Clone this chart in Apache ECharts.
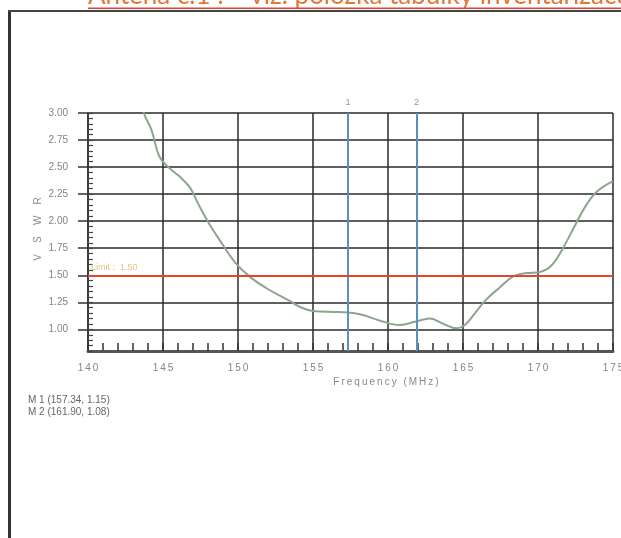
<!DOCTYPE html>
<html>
<head>
<meta charset="utf-8">
<style>
  html, body { margin: 0; padding: 0; background: #fff; }
  #chart { width: 621px; height: 538px; }
</style>
<script src="https://cdn.jsdelivr.net/npm/echarts@6/dist/echarts.min.js"></script>
</head>
<body>
<div id="chart"></div>
<script>
// VSWR sweep
const freqs = [143.5, 143.73, 144.24, 144.75, 145.36, 146.13, 146.8, 147.35, 148.02, 148.8, 149.8, 150.8, 151.9,
  153.47, 154.25, 155.0, 156.8, 158.13, 159.47, 160.8, 161.8, 162.8, 163.7, 164.58, 165.13, 165.8, 166.58,
  167.47, 168.35, 169.25, 170.13, 170.9, 171.58, 172.35, 173.13, 173.9, 175.0];
const vswr = [3.2, 3.0, 2.84, 2.6, 2.5, 2.41, 2.31, 2.16, 1.99, 1.82, 1.62, 1.485, 1.38,
  1.26, 1.2, 1.17, 1.16, 1.14, 1.08, 1.04, 1.07, 1.1, 1.05, 1.01, 1.04, 1.15, 1.28,
  1.39, 1.49, 1.52, 1.53, 1.59, 1.73, 1.93, 2.13, 2.27, 2.37];

const yTicks = [1.0, 1.25, 1.5, 1.75, 2.0, 2.25, 2.5, 2.75, 3.0];
const limitValue = 1.5;

const markerNames = ['M 1', 'M 2'];
const markerFreqs = [157.34, 161.90];
const markerVswr = [1.15, 1.08];

// spread letters a bit, the scan's plot font is wide-set
const spread = s => s.split('').join('\u2009');

const chart = echarts.init(document.getElementById('chart'));

const labelFont = { color: '#848484', fontSize: 10, fontFamily: 'Liberation Sans' };

chart.setOption({
  animation: false,
  backgroundColor: '#fff',
  grid: { left: 88, right: 8, top: 113, bottom: 187, outerBoundsMode: 'none' },
  xAxis: [{
    type: 'value', min: 140, max: 175, interval: 5,
    axisLine: { lineStyle: { color: '#555', width: 3 } },
    axisTick: { show: false },
    axisLabel: Object.assign({ margin: 12, formatter: v => spread(String(v)) }, labelFont),
    splitLine: { show: true, lineStyle: { color: '#2a2a2a', width: 1.5 } }
  }, {
    type: 'value', min: 140, max: 175, interval: 1, position: 'bottom',
    axisLine: { show: false },
    axisTick: { inside: true, length: 8, lineStyle: { color: '#333', width: 1.5 } },
    axisLabel: { show: false }, splitLine: { show: false }
  }],
  yAxis: [{
    type: 'value', min: 0.8, max: 3.0,
    axisLine: { show: true, lineStyle: { color: '#333', width: 1.5 } },
    axisTick: { show: true, customValues: yTicks, length: 10, lineStyle: { color: '#333', width: 1.5 } },
    axisLabel: Object.assign({ margin: 20, customValues: yTicks, formatter: v => v.toFixed(2) }, labelFont),
    splitLine: { show: true, lineStyle: { color: '#2a2a2a', width: 1.5 } }
  }, {
    type: 'value', min: 0.8, max: 3.0, interval: 0.05, position: 'left',
    axisLine: { show: false },
    axisTick: { inside: true, length: 5, lineStyle: { color: '#444', width: 1.2 } },
    axisLabel: { show: false }, splitLine: { show: false }
  }],
  series: [{
    type: 'line',
    data: freqs.map((f, i) => [f, vswr[i]]),
    smooth: 0.4,
    showSymbol: false,
    clip: true,
    lineStyle: { color: '#8da58d', width: 2 },
    markLine: {
      silent: true,
      symbol: 'none',
      data: [
        ...markerFreqs.map((f, i) => ({
          xAxis: f,
          lineStyle: { color: '#5b8ec4', width: 2, type: 'solid' },
          label: { show: true, position: 'end', formatter: String(i + 1), color: '#999', fontSize: 9, distance: 6 }
        })),
        {
          yAxis: limitValue,
          lineStyle: { color: '#e0482c', width: 2, type: 'solid' },
          label: { show: true, position: 'insideStartTop', formatter: 'Limit :  ' + limitValue.toFixed(2), color: '#e9bf85', fontSize: 9, distance: 3 }
        }
      ]
    }
  }],
  graphic: [
    { type: 'rect', shape: { x: 8, y: 11, width: 3, height: 527 }, style: { fill: '#333' } },
    { type: 'rect', shape: { x: 8, y: 10, width: 613, height: 2 }, style: { fill: '#444' } },
    { type: 'text', x: 88, y: 9, style: { text: 'Anténa č.1 :    viz. položka tabulky inventarizace', fill: '#e07a3c', font: '26px Lato', verticalAlign: 'bottom' } },
    { type: 'rect', shape: { x: 88, y: 7.5, width: 533, height: 1.5 }, style: { fill: '#d9472e' } },
    { type: 'text', x: 38, y: 229, rotation: Math.PI / 2, style: { text: 'V    S    W    R', fill: '#888', font: '10px Liberation Sans', align: 'center', verticalAlign: 'middle' } },
    { type: 'text', x: 386, y: 382, style: { text: spread('Frequency (MHz)'), fill: '#888', font: '10px Liberation Sans', align: 'center', verticalAlign: 'middle' } },
    { type: 'text', x: 28, y: 394, style: {
      text: markerNames.map((n, i) => n + ' (' + markerFreqs[i].toFixed(2) + ', ' + markerVswr[i].toFixed(2) + ')').join('\n'),
      fill: '#666', font: '10px Liberation Sans', lineHeight: 12 } }
  ]
});
</script>
</body>
</html>
